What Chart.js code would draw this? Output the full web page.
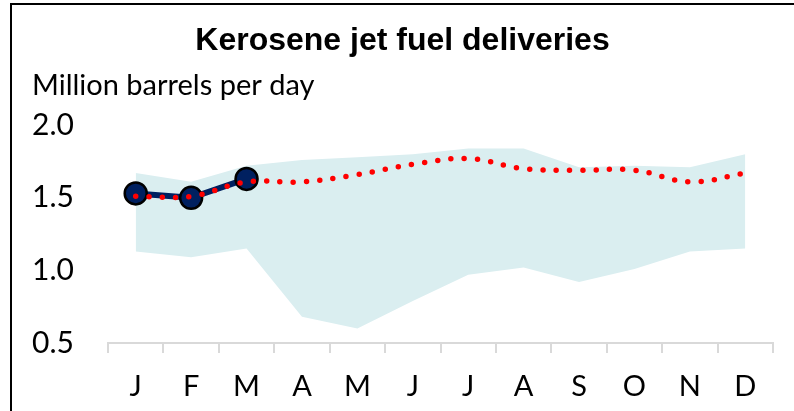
<!DOCTYPE html>
<html>
<head>
<meta charset="utf-8">
<script src="https://cdn.jsdelivr.net/npm/chart.js@4.4.1/dist/chart.umd.min.js"></script>
<style>
  html, body { margin: 0; padding: 0; background: #fff; }
  #wrap { position: relative; width: 794px; height: 411px; overflow: hidden; }
  #frame { position: absolute; left: 10px; top: 3px; width: 900px; height: 500px;
           border-left: 2px solid #000; border-top: 2px solid #000; box-sizing: border-box; pointer-events: none; }
  canvas { position: absolute; left: 0; top: 0; }
</style>
</head>
<body>
<div id="wrap">
  <canvas id="c" width="794" height="411"></canvas>
  <div id="frame"></div>
</div>
<script>
const months = ['J', 'F', 'M', 'A', 'M', 'J', 'J', 'A', 'S', 'O', 'N', 'D'];
const actual = [1.53, 1.50, 1.63, null, null, null, null, null, null, null, null, null];
const forecast = [1.51, 1.51, 1.61, 1.61, 1.66, 1.73, 1.77, 1.70, 1.69, 1.69, 1.61, 1.67];
const rangeHigh = [1.67, 1.61, 1.72, 1.76, 1.78, 1.80, 1.84, 1.84, 1.71, 1.72, 1.71, 1.80];
const rangeLow = [1.13, 1.09, 1.15, 0.68, 0.60, 0.79, 0.97, 1.02, 0.92, 1.01, 1.13, 1.15];
const yTicks = [0.5, 1.0, 1.5, 2.0];

const bodyFont = 'Lato, Carlito, Calibri, "Open Sans", sans-serif';

new Chart(document.getElementById('c'), {
  type: 'line',
  data: {
    labels: months,
    datasets: [
      {
        label: 'Forecast',
        data: forecast,
        borderColor: '#ff0000',
        borderWidth: 5.5,
        borderDash: [0, 13.3],
        borderCapStyle: 'round',
        tension: 0.4,
        pointRadius: 0,
        fill: false
      },
      {
        label: 'Actual',
        data: actual,
        borderColor: '#002060',
        borderWidth: 6,
        tension: 0,
        pointRadius: 11,
        pointBackgroundColor: '#002060',
        pointBorderColor: '#000000',
        pointBorderWidth: 2.5,
        fill: false
      },
      {
        label: 'Range high',
        data: rangeHigh,
        borderWidth: 0,
        borderColor: 'rgba(0,0,0,0)',
        pointRadius: 0,
        tension: 0,
        backgroundColor: 'rgb(218,238,240)',
        fill: '+1'
      },
      {
        label: 'Range low',
        data: rangeLow,
        borderWidth: 0,
        borderColor: 'rgba(0,0,0,0)',
        pointRadius: 0,
        tension: 0,
        fill: false
      }
    ]
  },
  options: {
    responsive: false,
    animation: false,
    devicePixelRatio: 1,
    layout: { padding: { left: 32, right: 21, top: 0, bottom: 0 } },
    plugins: {
      legend: { display: false },
      tooltip: { enabled: false },
      title: {
        display: true,
        text: 'Kerosene jet fuel deliveries',
        color: '#000',
        font: { family: '"Liberation Sans", Arial, sans-serif', size: 32, weight: 'bold' },
        padding: { top: 22, bottom: 0 }
      },
      subtitle: {
        display: true,
        text: 'Million barrels per day',
        align: 'start',
        color: '#000',
        font: { family: bodyFont, size: 29, weight: 'normal' },
        padding: { top: 8, bottom: 22 }
      }
    },
    scales: {
      x: {
        offset: true,
        afterFit: (axis) => { axis.height = 68; },
        grid: {
          offset: true,
          drawOnChartArea: false,
          drawTicks: true,
          tickLength: 10,
          color: '#d9d9d9',
          lineWidth: 2
        },
        border: { display: true, color: '#d9d9d9', width: 2 },
        ticks: {
          color: '#000',
          font: { family: bodyFont, size: 29 },
          padding: 16,
          maxRotation: 0,
          autoSkip: false
        }
      },
      y: {
        min: 0.5,
        max: 2.0,
        afterBuildTicks: (axis) => { axis.ticks = yTicks.map(v => ({ value: v })); },
        afterFit: (axis) => { axis.width = 76; },
        grid: { display: false, drawTicks: false },
        border: { display: false },
        ticks: {
          color: '#000',
          font: { family: bodyFont, size: 30 },
          crossAlign: 'far',
          padding: 0,
          callback: (v) => Number(v).toFixed(1)
        }
      }
    }
  }
});
</script>
</body>
</html>
